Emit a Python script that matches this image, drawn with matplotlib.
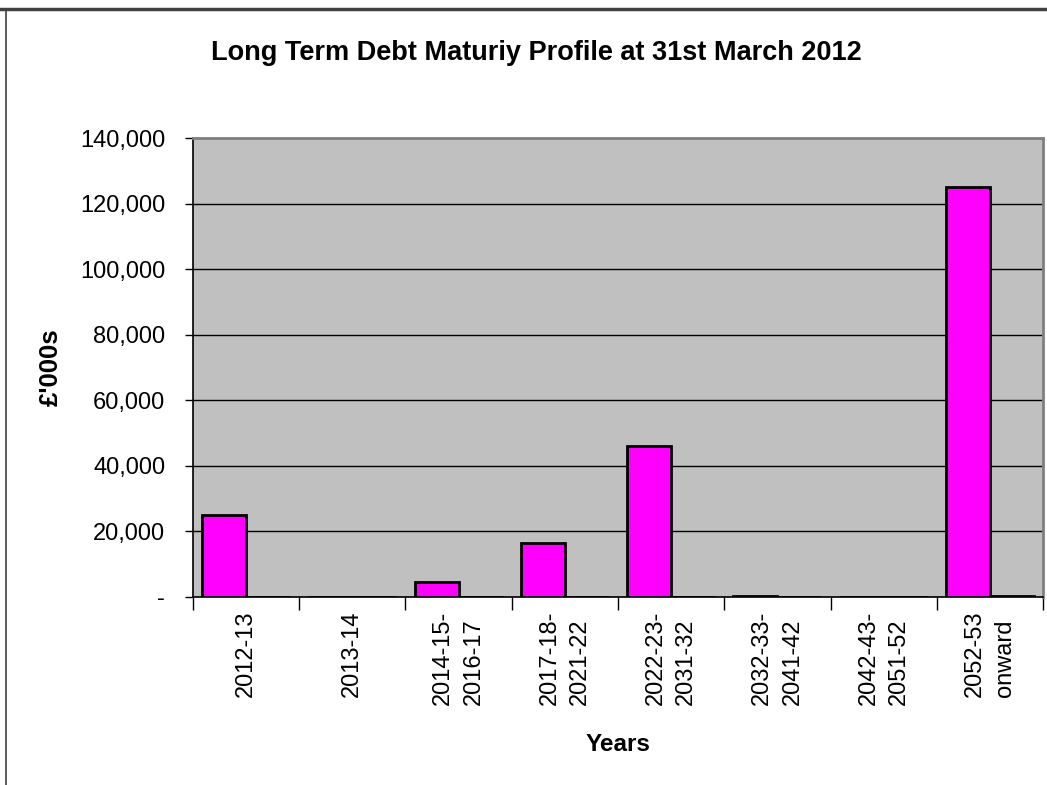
import matplotlib
matplotlib.use('Agg')
import matplotlib.pyplot as plt
from matplotlib.lines import Line2D
import numpy as np

# data (£'000s)
categories = ['2012-13', '2013-14', '2014-15-\n2016-17', '2017-18-\n2021-22',
              '2022-23-\n2031-32', '2032-33-\n2041-42', '2042-43-\n2051-52',
              '2052-53\nonward']
principal = [24900, 0, 4400, 16500, 46100, 250, 0, 125200]
other = [0, 0, 0, 0, 0, 0, 0, 250]

plt.rcParams['font.family'] = ['Liberation Sans', 'DejaVu Sans']

fig = plt.figure(figsize=(10.47, 7.85), dpi=100)
ax = fig.add_axes([0.1843, 0.2399, 0.8119, 0.5839])
ax.set_facecolor('#C0C0C0')

x = np.arange(len(categories))
w = 0.415
ax.bar(x - w / 2, principal, w, color='#FF00FF', edgecolor='black', linewidth=2, zorder=3)
ax.bar(x + w / 2, other, w, color='#FF00FF', edgecolor='black', linewidth=2, zorder=3)

ax.set_xlim(-0.5, len(categories) - 0.5)
ax.set_ylim(0, 140000)
yt = np.arange(0, 140001, 20000)
ax.set_yticks(yt)
ax.set_yticklabels(['-' if v == 0 else f'{v:,}' for v in yt], fontsize=17)
ax.yaxis.grid(True, color='black', linewidth=1, zorder=1)
ax.tick_params(axis='y', direction='out', length=6, width=1, pad=14)

ax.set_xticks(x)
ax.set_xticklabels(categories, rotation=90, fontsize=17, va='top', ha='center',
                   multialignment='left', linespacing=1.5)
ax.tick_params(axis='x', which='major', length=0, pad=10)
ax.set_xticks(np.arange(-0.5, len(categories)), minor=True)
ax.tick_params(axis='x', which='minor', direction='out', length=9, width=1)

for s in ['left', 'bottom']:
    ax.spines[s].set_color('black')
    ax.spines[s].set_linewidth(1.2)
for s in ['top', 'right']:
    ax.spines[s].set_color('#808080')
    ax.spines[s].set_linewidth(2)

fig.text(0.512, 0.932, 'Long Term Debt Maturiy Profile at 31st March 2012',
         ha='center', va='center', fontsize=19.5, fontweight='bold')
fig.text(0.59, 0.051, 'Years', ha='center', va='center', fontsize=17.5, fontweight='bold')
fig.text(0.048, 0.532, "£'000s", ha='center', va='center', rotation=90,
         fontsize=18.5, fontweight='bold')

# chart area border (top and left edges visible in the crop)
fig.add_artist(Line2D([0, 1], [0.9885, 0.9885], color='#404040', linewidth=2.5,
                      transform=fig.transFigure))
fig.add_artist(Line2D([0.0055, 0.0055], [0, 0.9885], color='#404040', linewidth=1.2,
                      transform=fig.transFigure))

fig.savefig('out.png', dpi=100)
